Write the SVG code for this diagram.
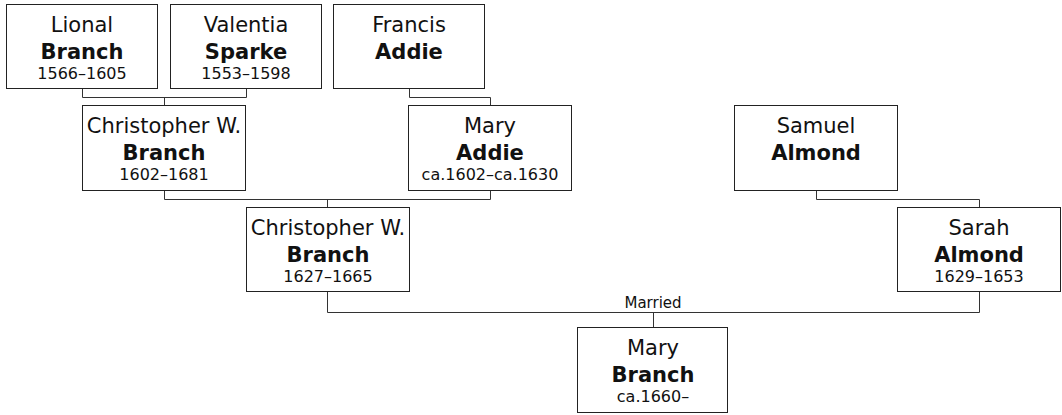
<svg xmlns="http://www.w3.org/2000/svg" width="1062" height="415" viewBox="0 0 1062 415">
<style>
.box{fill:#fff;stroke:#222;stroke-width:1}
.c{fill:none;stroke:#333;stroke-width:1}
text{font-family:"DejaVu Sans",Verdana,sans-serif;fill:#111;text-anchor:middle}
.n{font-size:21px}
.s{font-size:21px;font-weight:bold}
.d{font-size:16px}
.m{font-size:15px}
</style>
<rect width="1062" height="415" fill="#fff"/>
<g id="connectors">
<path class="c" d="M82.5 89 V97.5 H246.5 V89 M164.5 97.5 V105"/>
<path class="c" d="M409.5 89 V97.5 H490.5 V105"/>
<path class="c" d="M164.5 191 V199.5 H490.5 V191 M327.5 199.5 V207"/>
<path class="c" d="M816.5 191 V199.5 H979.5 V207"/>
<path class="c" d="M327.5 292 V312.5 H979.5 V292 M653.5 312.5 V327"/>
<text class="m" x="653" y="308">Married</text>
</g>
<g id="lional">
<rect class="box" x="6.5" y="4.5" width="151" height="84"/>
<text class="n" x="82" y="32">Lional</text>
<text class="s" x="82" y="59">Branch</text>
<text class="d" x="82" y="79">1566–1605</text>
</g>
<g id="valentia">
<rect class="box" x="170.5" y="4.5" width="151" height="84"/>
<text class="n" x="246" y="32">Valentia</text>
<text class="s" x="246" y="59">Sparke</text>
<text class="d" x="246" y="79">1553–1598</text>
</g>
<g id="francis">
<rect class="box" x="333.5" y="4.5" width="151" height="84"/>
<text class="n" x="409" y="32">Francis</text>
<text class="s" x="409" y="59">Addie</text>
</g>
<g id="christopher1602">
<rect class="box" x="82.5" y="105.5" width="163" height="85"/>
<text class="n" x="164" y="133">Christopher W.</text>
<text class="s" x="164" y="160">Branch</text>
<text class="d" x="164" y="180">1602–1681</text>
</g>
<g id="maryaddie">
<rect class="box" x="408.5" y="105.5" width="163" height="85"/>
<text class="n" x="490" y="133">Mary</text>
<text class="s" x="490" y="160">Addie</text>
<text class="d" x="490" y="180">ca.1602–ca.1630</text>
</g>
<g id="samuel">
<rect class="box" x="734.5" y="105.5" width="163" height="85"/>
<text class="n" x="816" y="133">Samuel</text>
<text class="s" x="816" y="160">Almond</text>
</g>
<g id="christopher1627">
<rect class="box" x="246.5" y="207.5" width="163" height="84"/>
<text class="n" x="328" y="235">Christopher W.</text>
<text class="s" x="328" y="262">Branch</text>
<text class="d" x="328" y="282">1627–1665</text>
</g>
<g id="sarah">
<rect class="box" x="897.5" y="207.5" width="163" height="84"/>
<text class="n" x="979" y="235">Sarah</text>
<text class="s" x="979" y="262">Almond</text>
<text class="d" x="979" y="282">1629–1653</text>
</g>
<g id="marybranch">
<rect class="box" x="577.5" y="327.5" width="150" height="85"/>
<text class="n" x="653" y="355">Mary</text>
<text class="s" x="653" y="382">Branch</text>
<text class="d" x="653" y="402">ca.1660–</text>
</g>
</svg>
